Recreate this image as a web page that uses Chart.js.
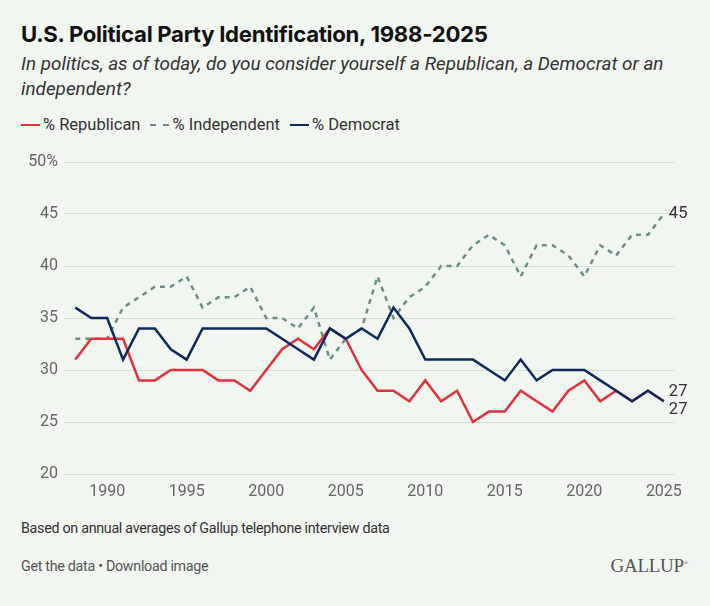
<!DOCTYPE html>
<html>
<head>
<meta charset="utf-8">
<script src="https://cdn.jsdelivr.net/npm/chart.js@4.4.1/dist/chart.umd.min.js"></script>
<style>
  html, body { margin:0; padding:0; }
  body { width:710px; height:606px; background:#f1f6f0; position:relative; overflow:hidden; font-family: Roboto, "Noto Sans", sans-serif; color:#222; }
  #title { position:absolute; left:21px; top:20px; font-family: Inter, Roboto, sans-serif; font-weight:700; font-size:22.2px; color:#111; letter-spacing:-0.3px; white-space:nowrap; }
  #subtitle { position:absolute; left:21px; top:51px; width:685px; font-style:italic; font-size:18.9px; line-height:25px; color:#333; }
  #legend { position:absolute; left:21px; top:115px; font-size:16.5px; color:#333; white-space:nowrap; }
  #legend span.item { display:inline-block; margin-right:10px; }
  #legend i { display:inline-block; width:19px; height:0; vertical-align:middle; margin-right:3px; position:relative; top:-1px; }
  #wrap { position:absolute; left:0; top:140px; width:710px; height:370px; }
  #note { position:absolute; left:21px; top:520px; font-size:14.3px; color:#333; letter-spacing:-0.3px; }
  #links { position:absolute; left:21px; top:558px; font-size:14.3px; color:#555; letter-spacing:-0.3px; }
  #logo { position:absolute; right:22px; top:555px; font-family:"Liberation Serif", "DejaVu Serif", serif; font-size:19px; color:#555; letter-spacing:-0.3px; }
</style>
</head>
<body>
<div id="title">U.S. Political Party Identification, 1988-2025</div>
<div id="subtitle">In politics, as of today, do you consider yourself a Republican, a Democrat or an independent?</div>
<div id="legend"></div>
<div id="wrap"><canvas id="c" width="710" height="370"></canvas></div>
<div id="note">Based on annual averages of Gallup telephone interview data</div>
<div id="links">Get the data • Download image</div>
<div id="logo">GALLUP<sup style="font-size:6px">®</sup></div>
<script>
const years = [1988,1989,1990,1991,1992,1993,1994,1995,1996,1997,1998,1999,2000,2001,2002,2003,2004,2005,2006,2007,2008,2009,2010,2011,2012,2013,2014,2015,2016,2017,2018,2019,2020,2021,2022,2023,2024,2025];
const republican = [31,33,33,33,29,29,30,30,30,29,29,28,30,32,33,32,34,33,30,28,28,27,29,27,28,25,26,26,28,27,26,28,29,27,28,27,28,27];
const independent = [33,33,33,36,37,38,38,39,36,37,37,38,35,35,34,36,31,33,34,39,35,37,38,40,40,42,43,42,39,42,42,41,39,42,41,43,43,45];
const democrat = [36,35,35,31,34,34,32,31,34,34,34,34,34,33,32,31,34,33,34,33,36,34,31,31,31,31,30,29,31,29,30,30,30,29,28,27,28,27];
const xTicks = [1990,1995,2000,2005,2010,2015,2020,2025];
const yTicks = [20,25,30,35,40,45,50];
const seriesNames = ['% Republican','% Independent','% Democrat'];
const colors = ['#e0323c','#6b8f80','#0e2a5c'];

// legend
const leg = document.getElementById('legend');
seriesNames.forEach((n,i)=>{
  const s = document.createElement('span'); s.className='item';
  const b = document.createElement('i');
  b.style.borderTop = (i===1 ? '2.5px dashed ' : '2.5px solid ') + colors[i];
  s.appendChild(b); s.appendChild(document.createTextNode(n));
  leg.appendChild(s);
});

const endOffsets = [9, 0, -9];
const endLabels = {
  id:'endLabels',
  afterDatasetsDraw(chart){
    const ctx = chart.ctx;
    ctx.save();
    ctx.font = '16.5px Roboto, sans-serif';
    ctx.fillStyle = '#333';
    ctx.textBaseline = 'middle';
    ctx.textAlign = 'left';
    chart.data.datasets.forEach((ds,i)=>{
      const meta = chart.getDatasetMeta(i);
      const pt = meta.data[meta.data.length-1];
      ctx.fillText(String(ds.data[ds.data.length-1].y), pt.x + 5, pt.y + endOffsets[i]);
    });
    ctx.restore();
  }
};

const mk = (arr)=> years.map((y,i)=>({x:y, y:arr[i]}));
new Chart(document.getElementById('c'), {
  type:'line',
  data:{ datasets:[
    {label:seriesNames[0], data:mk(republican), borderColor:colors[0], borderWidth:2.5, pointRadius:0, tension:0, order:2},
    {label:seriesNames[1], data:mk(independent), borderColor:colors[1], borderWidth:2.5, borderDash:[5,5], pointRadius:0, tension:0, order:3},
    {label:seriesNames[2], data:mk(democrat), borderColor:colors[2], borderWidth:2.5, pointRadius:0, tension:0, order:1}
  ]},
  options:{
    responsive:false, animation:false,
    layout:{ padding:{ left:0, right:35, top:22, bottom:0 } },
    plugins:{ legend:{display:false}, tooltip:{enabled:false} },
    scales:{
      x:{ type:'linear', min:1987.35, max:2025.7,
        afterBuildTicks: s => { s.ticks = xTicks.map(v=>({value:v})); },
        afterFit: s => { s.height = 36; },
        grid:{ display:false, drawTicks:false }, border:{display:false},
        ticks:{ color:'#666', font:{ size:16, family:'Roboto' }, padding:8, maxRotation:0, autoSkip:false, callback: v => String(v) }
      },
      y:{ min:20, max:50,
        afterBuildTicks: s => { s.ticks = yTicks.map(v=>({value:v})); },
        afterFit: s => { s.width = 65; },
        grid:{ color:'#d8ddd7', lineWidth:1, drawTicks:false }, border:{display:false},
        ticks:{ color:'#666', font:{ size:16, family:'Roboto' }, padding:7, callback: v => v===50 ? '50%' : String(v) }
      }
    }
  },
  plugins:[endLabels]
});
</script>
</body>
</html>
